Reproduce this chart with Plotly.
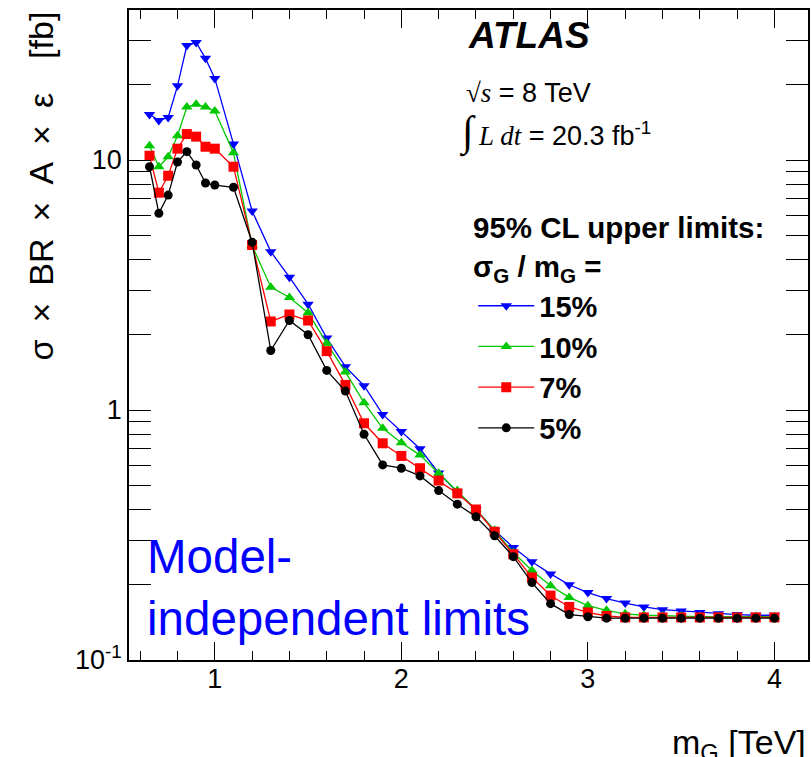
import plotly.graph_objects as go

# ---------------- data ----------------
mass = [0.65, 0.70, 0.75, 0.80, 0.85, 0.90, 0.95, 1.0, 1.1, 1.2, 1.3, 1.4, 1.5, 1.6, 1.7, 1.8,
        1.9, 2.0, 2.1, 2.2, 2.3, 2.4, 2.5, 2.6, 2.7, 2.8, 2.9, 3.0, 3.1, 3.2, 3.3, 3.4, 3.5,
        3.6, 3.7, 3.8, 3.9, 4.0]

lim15 = [15.2, 14.4, 14.8, 19.8, 28.7, 29.5, 25.5, 21.2, 11.6, 6.25, 4.30, 3.40, 2.65, 1.94,
         1.49, 1.25, 0.96, 0.82, 0.70, 0.56, 0.47, 0.40, 0.33, 0.282, 0.247, 0.221, 0.200,
         0.186, 0.176, 0.169, 0.163, 0.159, 0.157, 0.155, 0.153, 0.152, 0.151, 0.151]
lim10 = [11.4, 9.4, 10.3, 12.5, 16.3, 16.7, 16.3, 15.7, 10.7, 4.55, 3.10, 2.82, 2.45, 1.85,
         1.42, 1.07, 0.845, 0.74, 0.66, 0.558, 0.476, 0.40, 0.33, 0.269, 0.228, 0.198, 0.178,
         0.165, 0.158, 0.153, 0.151, 0.150, 0.150, 0.149, 0.149, 0.149, 0.149, 0.149]
lim7 = [10.4, 7.40, 8.65, 11.1, 12.7, 12.4, 11.3, 11.1, 9.4, 4.57, 2.26, 2.41, 2.28, 1.72,
        1.26, 0.885, 0.736, 0.655, 0.585, 0.522, 0.464, 0.400, 0.326, 0.265, 0.214, 0.181,
        0.163, 0.155, 0.150, 0.148, 0.148, 0.148, 0.148, 0.148, 0.148, 0.148, 0.148, 0.148]
lim5 = [9.4, 6.12, 7.24, 9.82, 10.8, 9.55, 8.09, 7.94, 7.78, 4.69, 1.73, 2.28, 2.00, 1.44,
        1.19, 0.80, 0.603, 0.585, 0.545, 0.476, 0.420, 0.374, 0.314, 0.259, 0.204, 0.168,
        0.152, 0.149, 0.147, 0.147, 0.147, 0.147, 0.147, 0.147, 0.147, 0.147, 0.147, 0.147]

series_names = ["15%", "10%", "7%", "5%"]
series_vals = [lim15, lim10, lim7, lim5]
series_colors = ["#0000ff", "#00c800", "#ff0000", "#000000"]
series_symbols = ["triangle-down", "triangle-up", "square", "circle"]

x_ticks = [1, 2, 3, 4]
y_ticks = [0.1, 1, 10]
y_ticktext = ["10<sup>-1</sup>", "1", "10"]

FONT = "Liberation Sans, Arial, Helvetica, sans-serif"
SERIF = "Liberation Serif"

fig = go.Figure()
for name, vals, col, sym in zip(series_names, series_vals, series_colors, series_symbols):
    fig.add_trace(go.Scatter(
        x=mass, y=vals, mode="lines+markers", name="<b>" + name + "</b>",
        line=dict(color=col, width=1.3),
        marker=dict(color=col, symbol=sym, size=9 if sym == "circle" else 10),
    ))

# helper trace for the finest x tick level
fig.add_trace(go.Scatter(x=[None], y=[None], xaxis="x2", showlegend=False, hoverinfo="skip"))

xr = [0.54, 4.18]
yr = [-1, 1.6]

# tick positions (style only)
x_minor02 = [round(0.6 + 0.2 * i, 1) for i in range(19) if abs(round(0.6 + 0.2 * i, 1) % 1) > 1e-6]
x_minor01 = [round(0.5 + 0.2 * i, 1) + 0.1 for i in range(19)]
y_minor = [m * 10 ** e for e in (-1, 0, 1) for m in range(2, 10) if m * 10 ** e < 10 ** 1.6]

fig.update_layout(
    width=811, height=757,
    margin=dict(l=129, r=1, t=10, b=97),
    paper_bgcolor="white", plot_bgcolor="white",
    font=dict(family=FONT, color="black"),
    showlegend=True,
    legend=dict(
        x=0.507, y=0.584, xanchor="left", yanchor="top",
        bgcolor="rgba(0,0,0,0)", borderwidth=0,
        font=dict(family=FONT, size=29, color="black"),
        itemwidth=56,
    ),
    xaxis=dict(
        type="linear", range=xr, showgrid=False, zeroline=False,
        showline=True, linecolor="black", linewidth=1.5, mirror="allticks",
        ticks="inside", ticklen=18, tickwidth=1.3, tickcolor="black",
        tickmode="array", tickvals=x_ticks, ticktext=[str(v) for v in x_ticks],
        tickfont=dict(family=FONT, size=27, color="black"),
        ticklabelstandoff=-6,
        minor=dict(tickmode="array", tickvals=x_minor02, ticks="inside", ticklen=9,
                   tickwidth=1.3, tickcolor="black", showgrid=False),
    ),
    xaxis2=dict(
        overlaying="x", anchor="y", range=xr, showgrid=False, zeroline=False,
        showline=False, mirror="allticks", side="bottom",
        ticks="inside", ticklen=5, tickwidth=1.3, tickcolor="black",
        tickmode="array", tickvals=x_minor01, showticklabels=False,
    ),
    yaxis=dict(
        type="log", range=yr, showgrid=False, zeroline=False,
        showline=True, linecolor="black", linewidth=1.5, mirror="allticks",
        ticks="inside", ticklen=22, tickwidth=1.3, tickcolor="black",
        tickmode="array", tickvals=y_ticks, ticktext=y_ticktext,
        tickfont=dict(family=FONT, size=27, color="black"),
        minor=dict(tickmode="array", tickvals=y_minor, ticks="inside", ticklen=11,
                   tickwidth=1.3, tickcolor="black", showgrid=False),
    ),
)

annotations = [
    # y axis title
    dict(xref="paper", yref="paper", x=0, y=1, xshift=-89, xanchor="center", yanchor="top",
         textangle=-90, showarrow=False,
         text="σ\u2002×\u2002BR\u2002×\u2002A\u2002×\u2002ε\u2003[fb]",
         font=dict(family=FONT, size=34, color="black")),
    # x axis title
    dict(xref="paper", yref="paper", x=1, y=0, yshift=-61, xanchor="right", yanchor="top",
         showarrow=False, text="m<sub>G</sub> [TeV]",
         font=dict(family=FONT, size=34, color="black")),
    # ATLAS label
    dict(xref="paper", yref="paper", x=0.497, y=0.995, xanchor="left", yanchor="top",
         showarrow=False, text="<b><i>ATLAS</i></b>",
         font=dict(family=FONT, size=37, color="black")),
    dict(xref="paper", yref="paper", x=0.494, y=0.899, xanchor="left", yanchor="top",
         showarrow=False,
         text=f"<span style='font-family:{SERIF}'>√<i>s</i></span> = 8 TeV",
         font=dict(family=FONT, size=27, color="black")),
    dict(xref="paper", yref="paper", x=0.483, y=0.853, xanchor="left", yanchor="top",
         showarrow=False,
         text=f"<span style='font-family:{SERIF};font-size:42px'>∫</span>"
              f"<span style='font-family:{SERIF}'><i>\u2009L dt</i></span> = 20.3 fb<sup>-1</sup>",
         font=dict(family=FONT, size=27, color="black")),
    # legend header
    dict(xref="paper", yref="paper", x=0.5037, y=0.666, xanchor="left", yanchor="middle",
         showarrow=False, text="<b>95% CL upper limits:</b>",
         font=dict(family=FONT, size=29.5, color="black")),
    dict(xref="paper", yref="paper", x=0.5037, y=0.602, xanchor="left", yanchor="middle",
         showarrow=False, text="<b>σ<sub>G</sub> / m<sub>G</sub> =</b>",
         font=dict(family=FONT, size=29.5, color="black")),
    # model-independent text
    dict(xref="paper", yref="paper", x=0.024, y=0.203, xanchor="left", yanchor="top",
         align="left", showarrow=False, text="Model-<br>independent limits",
         font=dict(family=FONT, size=47.5, color="#0000ff")),
]
fig.update_layout(annotations=annotations)

fig.write_html("out.html")
